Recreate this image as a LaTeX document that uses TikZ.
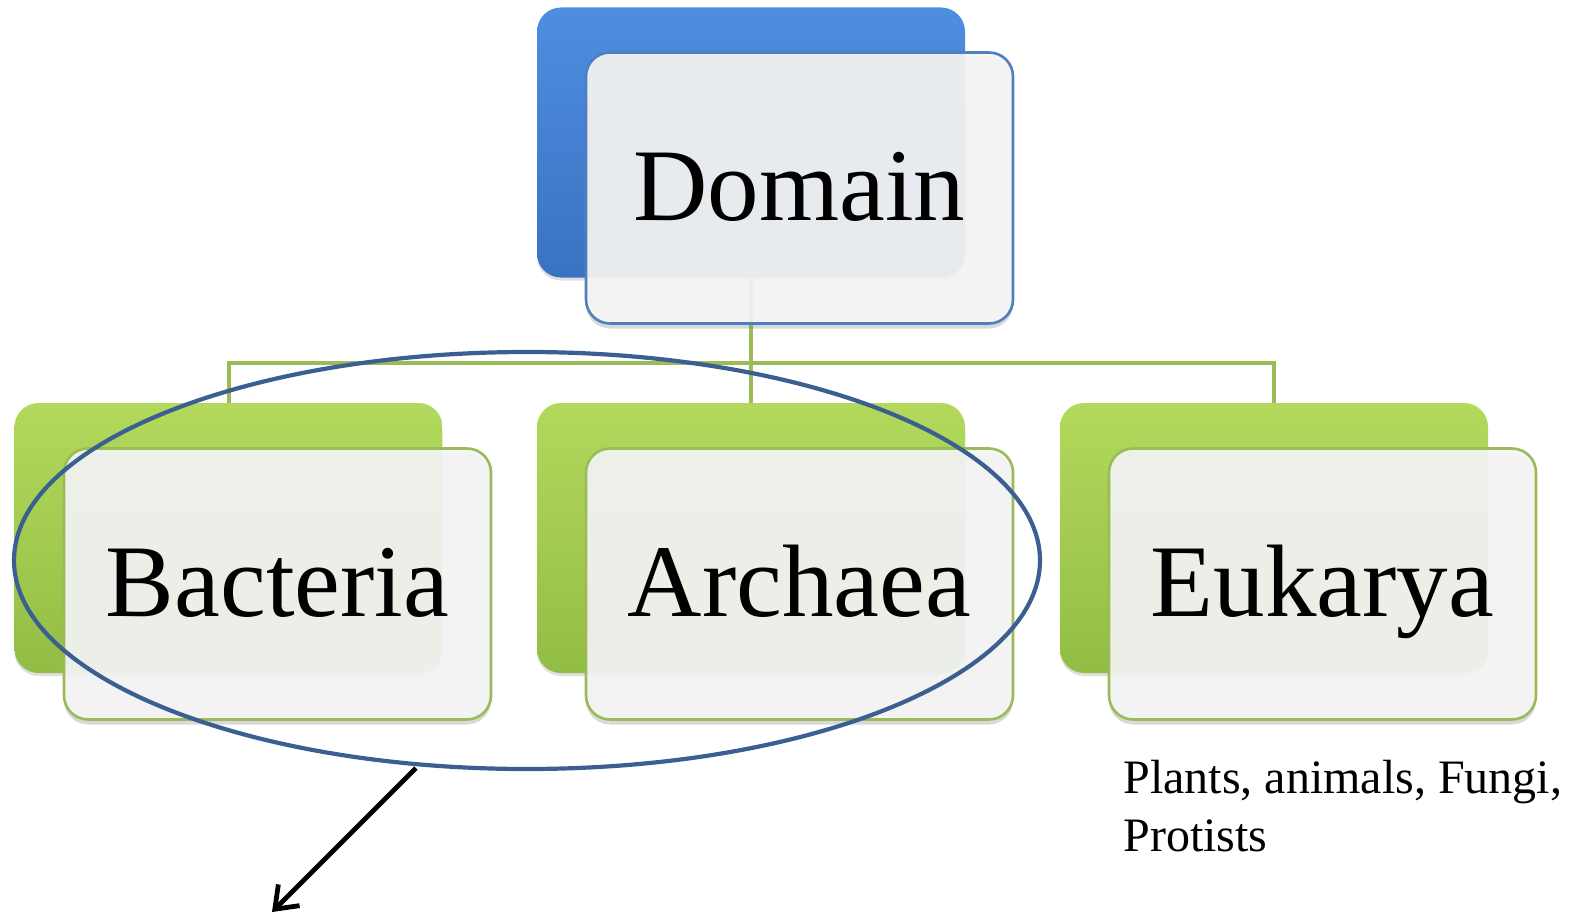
\documentclass[tikz,border=0pt]{standalone}
\usepackage{fontspec}
\setmainfont{Liberation Serif}
\usetikzlibrary{shapes.geometric,shadows,arrows.meta}
\definecolor{bluetop}{HTML}{4E8EE0}
\definecolor{bluebot}{HTML}{3A72C2}
\definecolor{blueline}{HTML}{4F7FBF}
\definecolor{greentop}{HTML}{B2D95C}
\definecolor{greenbot}{HTML}{92BD44}
\definecolor{greenline}{HTML}{9BBB59}
\definecolor{frontfill}{HTML}{F4F5F4}
\definecolor{ellcol}{HTML}{3C5F91}
\tikzset{
  backbox/.style={rounded corners=12pt, minimum width=214pt, minimum height=135pt, inner sep=0pt,
    drop shadow={shadow xshift=0pt, shadow yshift=-1.5pt, opacity=0.25}},
  backblue/.style={backbox, top color=bluetop, bottom color=bluebot},
  backgreen/.style={backbox, top color=greentop, bottom color=greenbot},
  frontbox/.style={rounded corners=12pt, minimum width=213.5pt, minimum height=135.5pt, inner sep=0pt,
    fill=frontfill, fill opacity=0.92, text opacity=1, line width=1.3pt,
    font=\fontsize{51.5}{60}\selectfont, text height=32pt, text depth=0pt,
    drop shadow={shadow xshift=0pt, shadow yshift=-2.5pt, opacity=0.3}},
  frontblue/.style={frontbox, draw=blueline},
  frontgreen/.style={frontbox, draw=greenline},
  conn/.style={draw=greenline, line width=2pt},
}
\begin{document}
\begin{tikzpicture}[x=0.5pt, y=-0.5pt]
\useasboundingbox (0,0) rectangle (1579,915);
% back boxes
\node[backblue] (dback) at (751,142.5) {};
\node[backgreen] (bback) at (228.5,538) {};
\node[backgreen] (aback) at (751,538) {};
\node[backgreen] (eback) at (1274,538) {};
% connectors
\coordinate (bus) at (751,363);
\draw[conn] (dback.south) -- (bus);
\draw[conn] (bback.north) |- (bus) -| (eback.north);
\draw[conn] (bus) -- (aback.north);
% front boxes
\node[frontblue] (dfront) at (799.5,188) {Domain};
\node[frontgreen] (bfront) at (277.5,584) {Bacteria};
\node[frontgreen] (afront) at (799.5,584) {Archaea};
\node[frontgreen] (efront) at (1322.5,584) {Eukarya};
% note
\node[anchor=base west, align=left, inner sep=0pt, font=\fontsize{24}{29}\selectfont] (note) at (1123,851) {Plants, animals, Fungi,\\Protists};
% ellipse
\node[ellipse, draw=ellcol, line width=2.1pt, minimum width=513pt, minimum height=208.5pt, inner sep=0pt] (ell) at (527,560.5) {};
% arrow
\coordinate (astart) at (416,768);
\coordinate (aend) at (272,912);
\draw[line width=2.4pt, -{Straight Barb[length=10pt, width=15pt, line width=2.4pt]}] (astart) -- (aend);
\end{tikzpicture}
\end{document}
